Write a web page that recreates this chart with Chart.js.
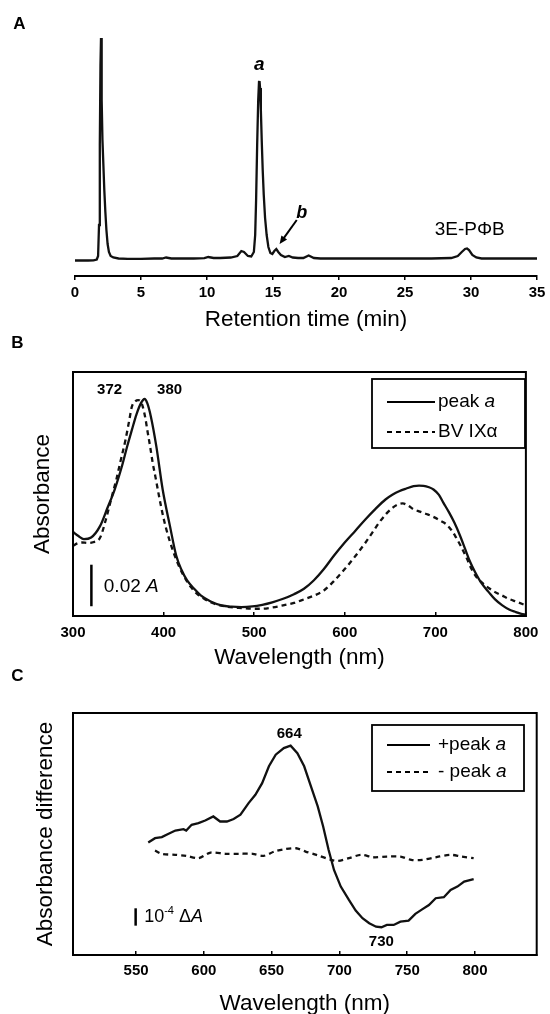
<!DOCTYPE html>
<html><head><meta charset="utf-8">
<script src="https://cdn.jsdelivr.net/npm/chart.js@4.4.1/dist/chart.umd.min.js"></script>
<style>
html,body{margin:0;padding:0;background:#fff;overflow:hidden;width:550px;height:1014px;}
canvas{position:absolute;left:0;}
#ca{top:0;width:550px;height:340px;}
#cb{top:330px;width:550px;height:345px;}
#cc{top:665px;width:550px;height:360px;}
</style></head><body>
<canvas id="ca" width="550" height="340"></canvas>
<canvas id="cb" width="550" height="345"></canvas>
<canvas id="cc" width="550" height="360"></canvas>
<script>
// ---------- Panel A: chromatogram ----------
const retentionTime = [0,0.5,1.0,1.4,1.65,1.75,1.82,1.88,1.93,1.97,2.0,2.04,2.08,2.15,2.22,2.3,2.38,2.47,2.57,2.7,2.9,3.3,4.0,5.0,6.0,6.6,6.9,7.3,8.0,9.0,9.8,10.1,10.5,11.0,11.8,12.3,12.6,12.8,13.1,13.35,13.55,13.65,13.72,13.8,13.88,13.94,13.98,14.02,14.08,14.15,14.22,14.3,14.4,14.52,14.65,14.8,14.95,15.1,15.25,15.4,15.6,15.9,16.2,16.5,16.9,17.3,17.7,18.1,18.6,19.5,21,23,25,27,28.5,29.0,29.3,29.55,29.7,29.85,30.1,30.4,30.8,31.5,33,35];
const detectorSignal = [-0.5,-0.5,-0.5,-0.3,0.5,4,35,115,195,222,210,160,120,95,70,48,30,16,8,4,2.5,1.5,1.2,1.2,1.5,1.5,2.5,1.5,1.5,1.5,1.8,3,2,2,2.5,4,9,8,4,3.5,8,25,60,115,160,178,179,172,150,118,90,65,42,25,13,7,6,9,11,8,5,3,4,2.5,2,2,4.5,2,1.5,1.5,1.5,1.5,1.5,1.5,2,4,8,11,11.5,10,5,2.5,1.5,1.5,1.5,1.5];
const retentionTicks = [0,5,10,15,20,25,30,35];

// ---------- Panel B: absorption spectra ----------
const wavelengthPeakA = [300,306,312,320,330,338,346,354,360,365,370,375,379,382,386,392,399,407,414,420,426,434,441,452,464,475,486,498,509,520,532,544,555,566,577,588,600,612,623,634,645,653,660,668,676,682,687,693,698,704,709,715,721,727,733,738,744,751,759,766,774,782,789,795,800];
const absorbancePeakA = [0.0405,0.0385,0.037,0.0378,0.0434,0.052,0.0609,0.0721,0.082,0.0896,0.097,0.1025,0.1045,0.1025,0.096,0.0817,0.0609,0.0434,0.029,0.022,0.0171,0.013,0.0099,0.007,0.0051,0.0045,0.0043,0.0046,0.0054,0.0066,0.0083,0.0105,0.0131,0.0172,0.0226,0.029,0.0354,0.0412,0.0466,0.0516,0.0561,0.0585,0.0601,0.0614,0.0625,0.0628,0.0627,0.062,0.0609,0.0583,0.0545,0.05,0.045,0.039,0.0322,0.0265,0.0211,0.0158,0.0115,0.008,0.0051,0.003,0.0019,0.001,0.0006];
const wavelengthBV = [300,305,310,316,322,330,336,343,348,352,358,362,365,369,372,375,377,380,382,385,388,391,395,399,403,407,411,416,422,430,437,446,456,470,486,498,509,520,532,544,555,566,577,588,600,612,623,631,638,646,653,659,664,670,676,683,691,699,706,712,717,722,728,734,740,745,751,758,766,774,781,790,800];
const absorbanceBV = [0.0338,0.035,0.0354,0.0352,0.0355,0.0378,0.046,0.0577,0.066,0.0737,0.0849,0.094,0.1008,0.1035,0.104,0.1032,0.1008,0.095,0.0896,0.082,0.0737,0.067,0.0577,0.049,0.0418,0.0358,0.0306,0.025,0.0195,0.014,0.0107,0.008,0.0059,0.0045,0.0038,0.0035,0.0035,0.0041,0.0051,0.0063,0.008,0.0098,0.0123,0.0168,0.0226,0.029,0.0354,0.0405,0.045,0.0493,0.0522,0.0538,0.0542,0.0532,0.0514,0.0503,0.049,0.0475,0.0458,0.0442,0.0418,0.0385,0.0338,0.0285,0.0226,0.019,0.0163,0.0138,0.0115,0.0098,0.0083,0.0068,0.0051];
const wavelengthTicksB = [300,400,500,600,700,800];

// ---------- Panel C: difference spectra (units of 1e-4 dA) ----------
const wavelengthPlus = [559,564,569,574,579,585,587,591,596,601,607,612,617,622,627,633,638,643,648,653,659,664,669,674,679,684,688,692,696,701,707,712,717,722,727,731,735,740,745,751,756,761,766,771,777,782,787,792,799];
const diffPlus = [6.48,6.73,6.79,6.98,7.17,7.25,7.17,7.5,7.6,7.75,7.98,7.69,7.69,7.83,8.08,8.75,9.23,9.9,10.87,11.54,11.92,12.06,11.63,10.87,9.71,8.56,7.4,6.06,4.9,3.94,3.17,2.56,2.12,1.83,1.63,1.6,1.73,1.73,1.92,1.98,2.37,2.63,2.88,3.27,3.33,3.75,3.94,4.23,4.37];
const wavelengthMinus = [564,569,579,587,596,605,616,626,636,644,652,660,668,675,683,694,699,707,716,725,735,745,753,761,771,782,790,799];
const diffMinus = [6.02,5.83,5.77,5.71,5.58,5.9,5.83,5.83,5.83,5.71,5.96,6.1,6.15,5.96,5.77,5.48,5.42,5.58,5.77,5.63,5.67,5.67,5.48,5.48,5.63,5.77,5.67,5.58];
const wavelengthTicksC = [550,600,650,700,750,800];

// ---------- helpers ----------
const FONT = '"Liberation Sans", Arial, Helvetica, sans-serif';
Chart.defaults.font.family = FONT;
Chart.defaults.color = '#000';

const pts = (xs, ys) => xs.map((x, i) => ({x: x, y: ys[i]}));

function drawSegs(ctx, segs, x, y, align) {
  let total = 0;
  segs.forEach(s => {
    ctx.font = (s.style || 'normal') + ' ' + (s.weight || 'normal') + ' ' + s.size + 'px ' + FONT;
    total += ctx.measureText(s.text).width;
  });
  let cx = align === 'center' ? x - total / 2 : x;
  segs.forEach(s => {
    ctx.font = (s.style || 'normal') + ' ' + (s.weight || 'normal') + ' ' + s.size + 'px ' + FONT;
    ctx.fillText(s.text, cx, y + (s.dy || 0));
    cx += ctx.measureText(s.text).width;
  });
}

const annotPlugin = {
  id: 'annot',
  afterDraw(chart, args, opts) {
    const ctx = chart.ctx, xs = chart.scales.x, ys = chart.scales.y, ca = chart.chartArea;
    ctx.save();
    ctx.fillStyle = '#000';
    ctx.strokeStyle = '#000';
    ctx.textBaseline = 'middle';
    if (opts.frame) {
      ctx.lineWidth = 2;
      ctx.strokeRect(ca.left, ca.top, ca.right - ca.left, ca.bottom - ca.top);
    }
    (opts.texts || []).forEach(t => {
      const x = t.px !== undefined ? t.px : xs.getPixelForValue(t.x);
      const y = t.py !== undefined ? t.py : ys.getPixelForValue(t.y);
      drawSegs(ctx, t.segs, x, y, t.align || 'center');
    });
    (opts.bars || []).forEach(b => {
      ctx.lineWidth = 2.5;
      ctx.beginPath();
      const x = xs.getPixelForValue(b.x);
      ctx.moveTo(x, ys.getPixelForValue(b.y1));
      ctx.lineTo(x, ys.getPixelForValue(b.y2));
      ctx.stroke();
    });
    (opts.arrows || []).forEach(a => {
      const x1 = xs.getPixelForValue(a.x1), y1 = ys.getPixelForValue(a.y1);
      const x2 = xs.getPixelForValue(a.x2), y2 = ys.getPixelForValue(a.y2);
      const ang = Math.atan2(y2 - y1, x2 - x1);
      ctx.lineWidth = 2;
      ctx.beginPath(); ctx.moveTo(x1, y1);
      ctx.lineTo(x2 - 5 * Math.cos(ang), y2 - 5 * Math.sin(ang)); ctx.stroke();
      ctx.beginPath();
      ctx.moveTo(x2, y2);
      ctx.lineTo(x2 - 8 * Math.cos(ang) + 3.5 * Math.sin(ang), y2 - 8 * Math.sin(ang) - 3.5 * Math.cos(ang));
      ctx.lineTo(x2 - 8 * Math.cos(ang) - 3.5 * Math.sin(ang), y2 - 8 * Math.sin(ang) + 3.5 * Math.cos(ang));
      ctx.closePath(); ctx.fill();
    });
    if (opts.legend) {
      const L = opts.legend;
      ctx.lineWidth = 1.8;
      ctx.setLineDash([]);
      ctx.strokeRect(L.box[0], L.box[1], L.box[2] - L.box[0], L.box[3] - L.box[1]);
      L.rows.forEach((r, i) => {
        const ds = chart.data.datasets[i];
        ctx.lineWidth = 2;
        ctx.setLineDash(ds.borderDash || []);
        ctx.beginPath(); ctx.moveTo(L.sx1, r.y); ctx.lineTo(L.sx2, r.y); ctx.stroke();
        ctx.setLineDash([]);
        drawSegs(ctx, r.segs, L.tx, r.y, 'left');
      });
    }
    ctx.restore();
  }
};

const tickFont = {size: 15, weight: 'bold', family: FONT};
const titleFont = {size: 22.5, family: FONT};
const setTicks = arr => s => { s.ticks = arr.map(v => ({value: v})); };

// ---------- Chart A ----------
new Chart(document.getElementById('ca'), {
  type: 'line',
  data: {datasets: [{label: 'HPLC', data: pts(retentionTime, detectorSignal), borderColor: '#111', borderWidth: 2.3, pointRadius: 0, tension: 0, fill: false, clip: 6}]},
  options: {
    responsive: false, animation: false, devicePixelRatio: 1,
    layout: {padding: {left: 75, right: 13, top: 38, bottom: 0}},
    plugins: {
      legend: {display: false}, tooltip: {enabled: false},
      annot: {
        texts: [
          {px: 19.5, py: 24, segs: [{text: 'A', size: 17, weight: 'bold'}]},
          {x: 13.97, y: 195, segs: [{text: 'a', size: 19, weight: 'bold', style: 'italic'}]},
          {x: 17.17, y: 47, segs: [{text: 'b', size: 18, weight: 'bold', style: 'italic'}]},
          {x: 29.9, y: 30, segs: [{text: '3E-P\u03A6B', size: 19}]}
        ],
        arrows: [{x1: 16.8, y1: 40, x2: 15.5, y2: 16}]
      }
    },
    scales: {
      x: {
        type: 'linear', min: 0, max: 35, afterBuildTicks: setTicks(retentionTicks), afterFit: s => { s.height = 64; },
        border: {display: true, color: '#000', width: 2},
        grid: {display: true, drawOnChartArea: false, drawTicks: true, tickLength: 4, color: '#000', lineWidth: 1.5},
        ticks: {padding: 3.6, font: tickFont, color: '#000', maxRotation: 0, autoSkip: false},
        title: {display: true, text: 'Retention time (min)', font: titleFont, color: '#000', padding: {top: 0, bottom: 6.8}}
      },
      y: {display: false, min: -16, max: 222}
    }
  },
  plugins: [annotPlugin]
});

// ---------- Chart B ----------
new Chart(document.getElementById('cb'), {
  type: 'line',
  data: {datasets: [
    {label: 'peak a', data: pts(wavelengthPeakA, absorbancePeakA), borderColor: '#111', borderWidth: 2.3, pointRadius: 0, cubicInterpolationMode: 'monotone', fill: false},
    {label: 'BV IX\u03B1', data: pts(wavelengthBV, absorbanceBV), borderColor: '#111', borderWidth: 2.3, borderDash: [5, 4], pointRadius: 0, cubicInterpolationMode: 'monotone', fill: false}
  ]},
  options: {
    responsive: false, animation: false, devicePixelRatio: 1,
    layout: {padding: {left: 0, right: 14, top: 42, bottom: 0}},
    plugins: {
      legend: {display: false}, tooltip: {enabled: false},
      annot: {
        frame: true,
        texts: [
          {px: 17.5, py: 13, segs: [{text: 'B', size: 17, weight: 'bold'}]},
          {x: 340.4, y: 0.1088, segs: [{text: '372', size: 15, weight: 'bold'}]},
          {x: 406.6, y: 0.1088, segs: [{text: '380', size: 15, weight: 'bold'}]},
          {x: 334, y: 0.0141, align: 'left', segs: [{text: '0.02 ', size: 19}, {text: 'A', size: 19, style: 'italic'}]}
        ],
        bars: [{x: 320.3, y1: 0.0047, y2: 0.0247}],
        legend: {
          box: [372, 49, 525, 118], sx1: 387, sx2: 435, tx: 438,
          rows: [
            {y: 72, segs: [{text: 'peak ', size: 19}, {text: 'a', size: 19, style: 'italic'}]},
            {y: 102, segs: [{text: 'BV IX\u03B1', size: 19}]}
          ]
        }
      }
    },
    scales: {
      x: {
        type: 'linear', min: 300, max: 800, afterBuildTicks: setTicks(wavelengthTicksB), afterFit: s => { s.height = 59; },
        border: {display: true, color: '#000', width: 2},
        grid: {display: true, drawOnChartArea: false, drawTicks: true, tickLength: -4, color: '#000', lineWidth: 1.5},
        ticks: {padding: 11.6, font: tickFont, color: '#000', maxRotation: 0, autoSkip: false},
        title: {display: true, text: 'Wavelength (nm)', font: titleFont, color: '#000', padding: {top: 0, bottom: 3.8}}
      },
      y: {
        min: 0, max: 0.1175, afterFit: s => { s.width = 73; },
        ticks: {display: false}, grid: {display: false},
        border: {display: true, color: '#000', width: 2},
        title: {display: true, text: 'Absorbance', font: titleFont, color: '#000', padding: {top: 28.8, bottom: 0}}
      }
    }
  },
  plugins: [annotPlugin]
});

// ---------- Chart C ----------
new Chart(document.getElementById('cc'), {
  type: 'line',
  data: {datasets: [
    {label: '+peak a', data: pts(wavelengthPlus, diffPlus), borderColor: '#111', borderWidth: 2.3, pointRadius: 0, tension: 0, fill: false},
    {label: '- peak a', data: pts(wavelengthMinus, diffMinus), borderColor: '#111', borderWidth: 2.3, borderDash: [5, 4], pointRadius: 0, tension: 0.3, fill: false}
  ]},
  options: {
    responsive: false, animation: false, devicePixelRatio: 1,
    layout: {padding: {left: 0, right: 13.3, top: 48, bottom: 0}},
    plugins: {
      legend: {display: false}, tooltip: {enabled: false},
      annot: {
        frame: true,
        texts: [
          {px: 17.5, py: 11, segs: [{text: 'C', size: 17, weight: 'bold'}]},
          {x: 663, y: 12.73, segs: [{text: '664', size: 15, weight: 'bold'}]},
          {x: 730.9, y: 0.77, segs: [{text: '730', size: 15, weight: 'bold'}]},
          {x: 556, y: 2.2, align: 'left', segs: [{text: '10', size: 18}, {text: '-4', size: 11, dy: -6}, {text: ' \u0394', size: 18}, {text: 'A', size: 18, style: 'italic'}]}
        ],
        bars: [{x: 549.7, y1: 1.69, y2: 2.69}],
        legend: {
          box: [372, 60, 524, 126], sx1: 387, sx2: 430, tx: 438,
          rows: [
            {y: 80, segs: [{text: '+peak ', size: 19}, {text: 'a', size: 19, style: 'italic'}]},
            {y: 107, segs: [{text: '- peak ', size: 19}, {text: 'a', size: 19, style: 'italic'}]}
          ]
        }
      }
    },
    scales: {
      x: {
        type: 'linear', min: 503.5, max: 845.5, afterBuildTicks: setTicks(wavelengthTicksC), afterFit: s => { s.height = 70; },
        border: {display: true, color: '#000', width: 2},
        grid: {display: true, drawOnChartArea: false, drawTicks: true, tickLength: -4, color: '#000', lineWidth: 1.5},
        ticks: {padding: 10.6, font: tickFont, color: '#000', maxRotation: 0, autoSkip: false},
        title: {display: true, text: 'Wavelength (nm)', font: titleFont, color: '#000', padding: {top: 0, bottom: 7.8}}
      },
      y: {
        min: 0, max: 13.94, afterFit: s => { s.width = 73; },
        ticks: {display: false}, grid: {display: false},
        border: {display: true, color: '#000', width: 2},
        title: {display: true, text: 'Absorbance difference', font: titleFont, color: '#000', padding: {top: 31.8, bottom: 0}}
      }
    }
  },
  plugins: [annotPlugin]
});
</script>
</body></html>
